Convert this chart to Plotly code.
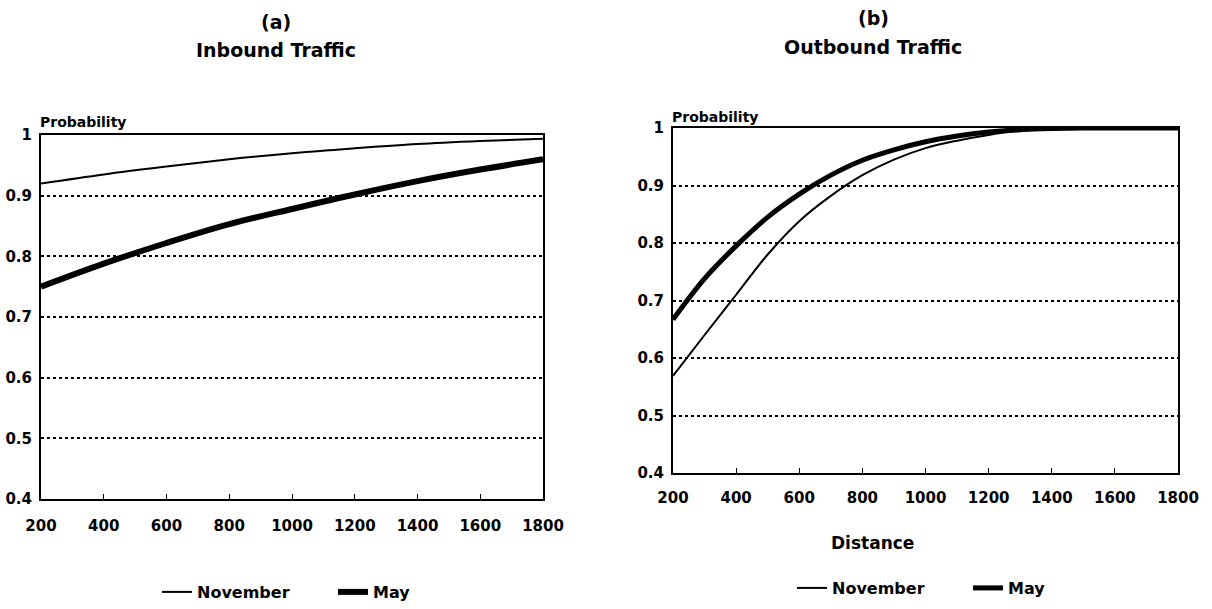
import plotly.graph_objects as go

# ---- data ----
dist_in = [200, 400, 600, 800, 1000, 1200, 1400, 1600, 1800]
nov_in = [0.920, 0.935, 0.948, 0.960, 0.970, 0.978, 0.985, 0.990, 0.994]
may_in = [0.750, 0.788, 0.822, 0.853, 0.878, 0.902, 0.924, 0.943, 0.960]

dist_out = [200, 300, 400, 500, 600, 700, 800, 900, 1000, 1100, 1200,
            1300, 1400, 1500, 1600, 1700, 1800]
nov_out = [0.569, 0.640, 0.710, 0.780, 0.838, 0.882, 0.918, 0.945, 0.965,
           0.978, 0.988, 0.995, 0.998, 1.000, 1.000, 1.000, 1.000]
may_out = [0.667, 0.738, 0.795, 0.845, 0.885, 0.918, 0.944, 0.962, 0.976,
           0.986, 0.993, 0.997, 0.999, 1.000, 1.000, 1.000, 1.000]

x_ticks = [200, 400, 600, 800, 1000, 1200, 1400, 1600, 1800]
y_ticks = [0.4, 0.5, 0.6, 0.7, 0.8, 0.9, 1.0]
y_ticktext = ["0.4", "0.5", "0.6", "0.7", "0.8", "0.9", "1"]

FONT = "DejaVu Sans"
W, H = 1212, 609

fig = go.Figure()
fig.add_trace(go.Scatter(x=dist_in, y=nov_in, mode="lines", name="November",
                         line=dict(color="black", width=2, shape="spline"),
                         xaxis="x", yaxis="y", legend="legend"))
fig.add_trace(go.Scatter(x=dist_in, y=may_in, mode="lines", name="May",
                         line=dict(color="black", width=6, shape="spline"),
                         xaxis="x", yaxis="y", legend="legend"))
fig.add_trace(go.Scatter(x=dist_out, y=nov_out, mode="lines", name="November",
                         line=dict(color="black", width=2, shape="spline"),
                         xaxis="x2", yaxis="y2", legend="legend2"))
fig.add_trace(go.Scatter(x=dist_out, y=may_out, mode="lines", name="May",
                         line=dict(color="black", width=5, shape="spline"),
                         xaxis="x2", yaxis="y2", legend="legend2"))

tickfont = dict(family=FONT, size=15, color="black", weight="bold")

def xax(domain, anchor, standoff):
    return dict(domain=domain, anchor=anchor, range=[200, 1800], tickvals=x_ticks,
                showgrid=False, showline=True, linecolor="black", linewidth=2,
                mirror=True, ticks="inside", ticklen=5, tickcolor="black",
                tickfont=tickfont, ticklabelstandoff=standoff, zeroline=False,
                automargin=False)

def yax(domain, anchor):
    return dict(domain=domain, anchor=anchor, range=[0.4, 1.0], tickvals=y_ticks,
                ticktext=y_ticktext, showgrid=True, gridcolor="black",
                griddash="dot", gridwidth=1.5, showline=True, linecolor="black",
                linewidth=2, mirror=True, ticks="", tickfont=tickfont,
                ticklabelstandoff=4, zeroline=False, automargin=False)

legfont = dict(family=FONT, size=16, color="black", weight="bold")
fig.update_layout(
    width=W, height=H,
    margin=dict(l=0, r=0, t=0, b=0, autoexpand=False),
    paper_bgcolor="white", plot_bgcolor="white",
    xaxis=xax([41 / W, 543 / W], "y", 12),
    yaxis=yax([1 - 499 / H, 1 - 135 / H], "x"),
    xaxis2=xax([673 / W, 1178 / W], "y2", 10),
    yaxis2=yax([1 - 473 / H, 1 - 128 / H], "x2"),
    legend=dict(orientation="h", x=157 / W, y=1 - 592 / H, xanchor="left",
                yanchor="middle", font=legfont, bgcolor="rgba(0,0,0,0)",
                itemwidth=30, entrywidth=131),
    legend2=dict(orientation="h", x=792 / W, y=1 - 588 / H, xanchor="left",
                 yanchor="middle", font=legfont, bgcolor="rgba(0,0,0,0)",
                 itemwidth=30, entrywidth=131),
    showlegend=True,
)

title_font = dict(family=FONT, size=19, color="black", weight="bold")
small_font = dict(family=FONT, size=14, color="black", weight="bold")
ann = [
    dict(text="(a)", x=276 / W, y=1 - 22 / H, font=title_font),
    dict(text="Inbound Traffic", x=276 / W, y=1 - 50 / H, font=title_font),
    dict(text="(b)", x=873 / W, y=1 - 18 / H, font=title_font),
    dict(text="Outbound Traffic", x=873 / W, y=1 - 47 / H, font=title_font),
    dict(text="Probability", x=38 / W, y=1 - 122 / H, xanchor="left", font=small_font),
    dict(text="Probability", x=670 / W, y=1 - 117 / H, xanchor="left", font=small_font),
    dict(text="Distance", x=872 / W, y=1 - 543 / H,
         font=dict(family=FONT, size=17, color="black", weight="bold")),
]
for a in ann:
    a.setdefault("xanchor", "center")
    a.update(xref="paper", yref="paper", yanchor="middle", showarrow=False)
fig.update_layout(annotations=ann)

fig.write_html("out.html",
               config={"displayModeBar": False},
               post_script="document.body.style.margin='0';"
                           "document.body.style.overflow='hidden';")
